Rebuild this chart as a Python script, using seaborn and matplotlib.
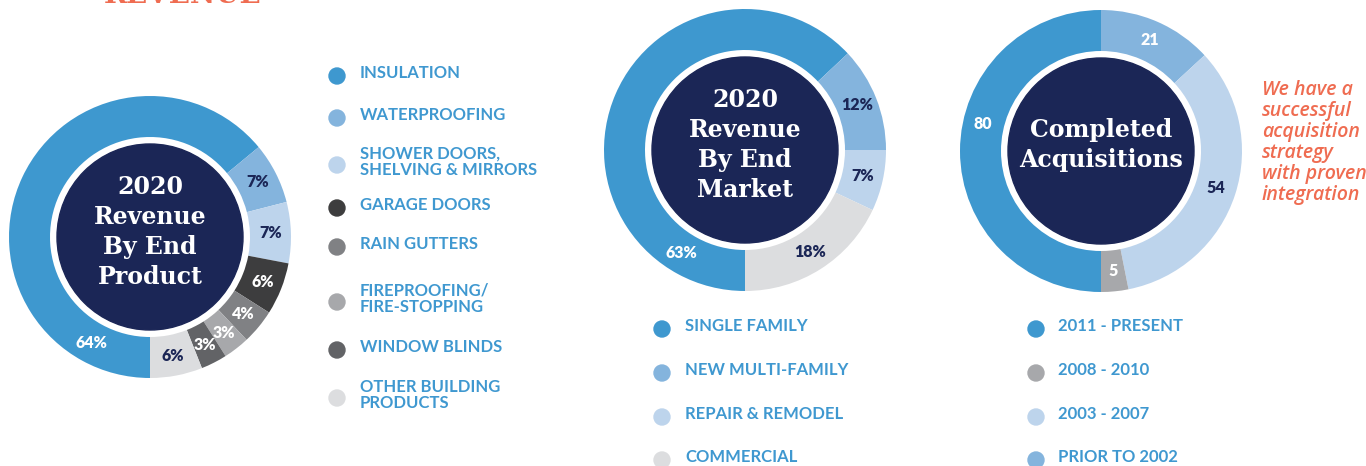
import numpy as np
import matplotlib
matplotlib.use("Agg")
import matplotlib.pyplot as plt
from matplotlib.patches import Circle
import seaborn as sns

# ---- data ----
product_labels = ["INSULATION", "WATERPROOFING", "SHOWER DOORS,\nSHELVING & MIRRORS", "GARAGE DOORS",
                  "RAIN GUTTERS", "FIREPROOFING/\nFIRE-STOPPING", "WINDOW BLINDS", "OTHER BUILDING\nPRODUCTS"]
product_values = [64, 7, 7, 6, 4, 3, 3, 6]

market_labels = ["SINGLE FAMILY", "NEW MULTI-FAMILY", "REPAIR & REMODEL", "COMMERCIAL"]
market_values = [63, 12, 7, 18]

acq_periods = ["2011 - PRESENT", "PRIOR TO 2002", "2003 - 2007", "2008 - 2010"]   # wedge order
acq_values = [80, 21, 54, 5]
acq_legend = ["2011 - PRESENT", "2008 - 2010", "2003 - 2007", "PRIOR TO 2002"]

# ---- style ----
sns.set_theme(style="white")
plt.rcParams["font.family"] = ["Lato", "DejaVu Sans"]

BLUE, MIDBLUE, LIGHTBLUE = "#3E98CF", "#84B4DD", "#BDD4EC"
NAVY = "#1B2656"
SALMON = "#EF6C51"
TEXTBLUE = "#3F98D0"
pal = {
    "INSULATION": BLUE, "WATERPROOFING": MIDBLUE, "SHOWER DOORS,\nSHELVING & MIRRORS": LIGHTBLUE,
    "GARAGE DOORS": "#3D3D3E", "RAIN GUTTERS": "#808184", "FIREPROOFING/\nFIRE-STOPPING": "#A7A8AB",
    "WINDOW BLINDS": "#626366", "OTHER BUILDING\nPRODUCTS": "#DCDDDF",
    "SINGLE FAMILY": BLUE, "NEW MULTI-FAMILY": MIDBLUE, "REPAIR & REMODEL": LIGHTBLUE, "COMMERCIAL": "#DCDDDF",
    "2011 - PRESENT": BLUE, "PRIOR TO 2002": MIDBLUE, "2003 - 2007": LIGHTBLUE, "2008 - 2010": "#A7A8AB",
}

W, H = 1366, 466
fig = plt.figure(figsize=(W / 100, H / 100), dpi=100)
ax = fig.add_axes([0, 0, 1, 1])


def Y(y):
    return H - y


R_OUT, RING, R_NAVY, R_LAB = 141, 41, 93, 121


def donut(cx, cy, values, labels, label_colors, center_text, text_dy, main_angle=None, fmt="{}%"):
    wedges, _ = ax.pie(values, colors=[pal[l] for l in labels], startangle=-90, counterclock=False,
                       radius=R_OUT, center=(cx, Y(cy)),
                       wedgeprops=dict(width=RING, linewidth=0, edgecolor="none"))
    for i, (w, v) in enumerate(zip(wedges, values)):
        ang = (w.theta1 + w.theta2) / 2
        if i == 0 and main_angle is not None:
            ang = main_angle
        a = np.deg2rad(ang)
        ax.text(cx + R_LAB * np.cos(a), Y(cy) + R_LAB * np.sin(a), fmt.format(v),
                ha="center", va="center", fontsize=11.5, fontweight="heavy", color=label_colors[i])
    ax.add_patch(Circle((cx, Y(cy)), R_NAVY, color=NAVY, zorder=3))
    ax.text(cx, Y(cy) + text_dy, center_text, ha="center", va="center", color="white", zorder=4,
            fontsize=17, fontweight="bold", family="DejaVu Serif", linespacing=1.3)


donut(150, 237, product_values, product_labels,
      ["white", NAVY, NAVY, "white", "white", "white", "white", NAVY],
      "2020\nRevenue\nBy End\nProduct", 5, main_angle=241)
donut(745, 150, market_values, market_labels, ["white", NAVY, NAVY, NAVY],
      "2020\nRevenue\nBy End\nMarket", 5, main_angle=238)
donut(1101, 151, acq_values, acq_periods, ["white", "white", NAVY, "white"],
      "Completed\nAcquisitions", 6, main_angle=167, fmt="{}")


def legend(x_dot, x_txt, ys, labels, size):
    for y, lab in zip(ys, labels):
        ax.add_patch(Circle((x_dot, Y(y + 3)), 8, color=pal[lab], zorder=3))
        ax.text(x_txt, Y(y), lab, ha="left", va="center", fontsize=size, fontweight="bold",
                color=TEXTBLUE, linespacing=1.0)


legend(337, 360, [73, 115, 162, 205, 244, 299, 347, 395], product_labels, 12)
legend(662, 685, [326, 370, 414, 457], market_labels, 12)
legend(1036, 1058, [326, 370, 414, 457], acq_legend, 12)

# side note and cut-off heading
note = ["We have a", "successful", "acquisition", "strategy", "with proven", "integration"]
for i, line in enumerate(note):
    ax.text(1262, Y(90 + 21 * i), line, ha="left", va="center", fontsize=14, style="italic",
            fontweight="semibold", color=SALMON, family=["Open Sans", "DejaVu Sans"])
ax.text(183, Y(3), "REVENUE", ha="center", va="baseline", fontsize=20, fontweight="bold",
        family="DejaVu Serif", color=SALMON)

ax.set_xlim(0, W)
ax.set_ylim(0, H)
ax.set_aspect("equal")
ax.axis("off")
fig.savefig("out.png", dpi=100, facecolor="white")
